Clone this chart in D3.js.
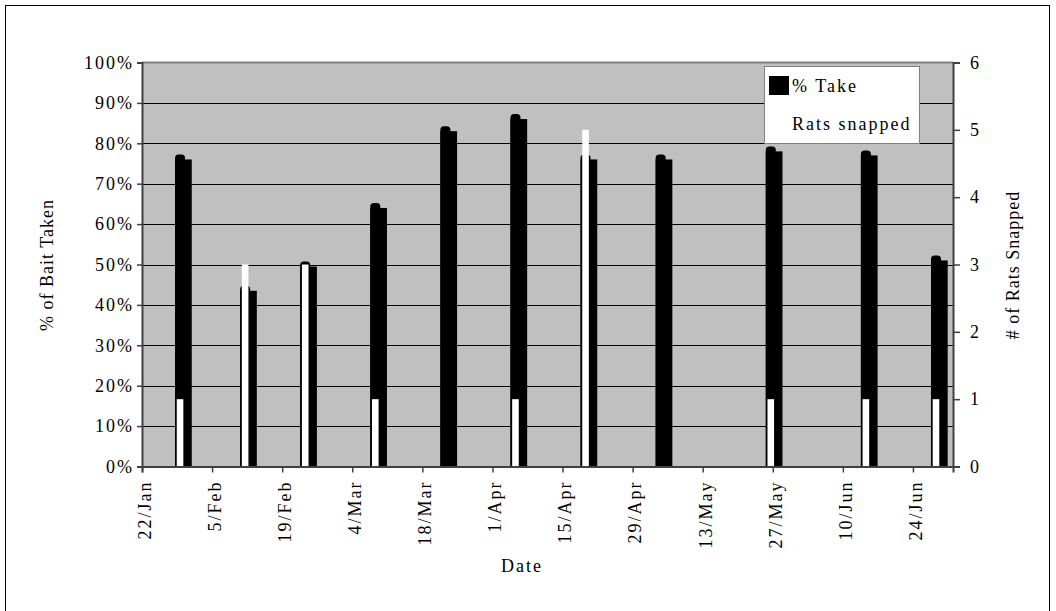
<!DOCTYPE html>
<html>
<head>
<meta charset="utf-8">
<script src="https://cdn.jsdelivr.net/npm/d3@7/dist/d3.min.js"></script>
<style>
  html, body { margin: 0; padding: 0; background: #fff; }
  svg text { font-family: "Liberation Serif", "Times New Roman", serif; fill: #000; }
</style>
</head>
<body>
<svg id="chart" width="1056" height="611"></svg>
<script>
// Sampling dates (2004) and readings
const sampleDates = ["30/Jan", "12/Feb", "24/Feb", "9/Mar", "23/Mar", "6/Apr", "20/Apr", "5/May", "27/May", "15/Jun", "29/Jun"];
const pctTake = [76, 43.5, 49.5, 64, 83, 86, 76, 76, 78, 77, 51];
const ratsSnapped = [1, 3, 3, 1, 0, 1, 5, 0, 1, 1, 1];

// Axis tick labels
const dateTicks = ["22/Jan", "5/Feb", "19/Feb", "4/Mar", "18/Mar", "1/Apr", "15/Apr", "29/Apr", "13/May", "27/May", "10/Jun", "24/Jun"];
const pctTicks = [0, 10, 20, 30, 40, 50, 60, 70, 80, 90, 100];
const ratTicks = [0, 1, 2, 3, 4, 5, 6];

const year = "2004";
const parse = d3.utcParse("%d/%b/%Y");
const toDate = s => parse(s + "/" + year);

const svg = d3.select("#chart");
const plotL = 142, plotR = 953, plotT = 62.5, plotB = 466.5;
const FS = 18;

const x = d3.scaleUtc()
  .domain([toDate("22/Jan"), toDate("2/Jul")])
  .range([plotL, plotR]);
const y = d3.scaleLinear().domain([0, 100]).range([plotB, plotT]);
const yR = d3.scaleLinear().domain([0, 6]).range([plotB, plotT]);

// Outer frame
svg.append("rect")
  .attr("x", 5.5).attr("y", 5.5)
  .attr("width", 1044).attr("height", 640)
  .attr("fill", "none").attr("stroke", "#000").attr("stroke-width", 1);

// Plot area
svg.append("rect")
  .attr("x", plotL).attr("y", plotT)
  .attr("width", plotR - plotL).attr("height", plotB - plotT)
  .attr("fill", "#c0c0c0");

// Gridlines
svg.append("g")
  .selectAll("line")
  .data(pctTicks.filter(d => d > 0 && d < 100))
  .join("line")
  .attr("x1", plotL).attr("x2", plotR)
  .attr("y1", d => Math.round(y(d)) + 0.5)
  .attr("y2", d => Math.round(y(d)) + 0.5)
  .attr("stroke", "#000").attr("stroke-width", 1.2);

// Top border of plot
svg.append("line")
  .attr("x1", plotL).attr("x2", plotR)
  .attr("y1", plotT).attr("y2", plotT)
  .attr("stroke", "#808080").attr("stroke-width", 2);

const rows = sampleDates.map((d, i) => ({
  date: toDate(d), take: pctTake[i], rats: ratsSnapped[i]
}));

// % Take bars: full-width body with a raised, rounded left portion
const bars = svg.append("g");
rows.forEach(r => {
  const cx = x(r.date);
  const yt = y(r.take);
  const x0 = cx - 7, xm = cx + 3, x1 = cx + 9.7;
  bars.append("rect")
    .attr("x", x0).attr("y", yt)
    .attr("width", x1 - x0).attr("height", plotB - yt)
    .attr("fill", "#000");
  const capTop = yt - 5, rr = 3.5;
  bars.append("path")
    .attr("d", `M${x0},${plotB} L${x0},${capTop + rr} Q${x0},${capTop} ${x0 + rr},${capTop}
                L${xm - rr},${capTop} Q${xm},${capTop} ${xm},${capTop + rr} L${xm},${plotB} Z`)
    .attr("fill", "#000");
});

// Rats snapped bars (secondary axis)
svg.append("g")
  .selectAll("rect")
  .data(rows.filter(r => r.rats > 0))
  .join("rect")
  .attr("x", r => x(r.date) - 5.3)
  .attr("y", r => yR(r.rats))
  .attr("width", 6.6)
  .attr("height", r => plotB - yR(r.rats))
  .attr("fill", "#fff");

// Left axis
const yAxis = svg.append("g")
  .attr("transform", `translate(${plotL},0)`)
  .call(d3.axisLeft(y).tickValues(pctTicks).tickFormat(d => d + "%").tickSize(5).tickPadding(3));
// Right axis
const yAxisR = svg.append("g")
  .attr("transform", `translate(${plotR},0)`)
  .call(d3.axisRight(yR).tickValues(ratTicks).tickFormat(d3.format("d")).tickSize(7).tickPadding(10));
// Bottom axis
const xAxis = svg.append("g")
  .attr("transform", `translate(0,${plotB})`)
  .call(d3.axisBottom(x).tickValues(dateTicks.map(toDate))
    .tickFormat((d, i) => dateTicks[i]).tickSize(6));

[yAxis, yAxisR, xAxis].forEach(g => {
  g.select(".domain").attr("stroke", "#404040").attr("stroke-width", 2);
  g.selectAll(".tick line").attr("stroke", "#404040").attr("stroke-width", 1.5);
  g.selectAll("text").attr("font-size", FS).style("font-family", "Liberation Serif, serif")
    .attr("letter-spacing", 2);
});

xAxis.selectAll("text")
  .attr("transform", "rotate(-90)")
  .attr("text-anchor", "end")
  .attr("x", -14)
  .attr("y", 2)
  .attr("dy", "0.35em");

// Axis titles
svg.append("text")
  .attr("transform", "translate(53,265) rotate(-90)")
  .attr("text-anchor", "middle")
  .attr("font-size", FS).attr("letter-spacing", 1)
  .text("% of Bait Taken");
svg.append("text")
  .attr("transform", "translate(1019,265) rotate(-90)")
  .attr("text-anchor", "middle")
  .attr("font-size", FS).attr("letter-spacing", 1)
  .text("# of Rats Snapped");
svg.append("text")
  .attr("x", 522).attr("y", 572)
  .attr("text-anchor", "middle")
  .attr("font-size", FS).attr("letter-spacing", 2)
  .text("Date");

// Legend
const lg = svg.append("g");
lg.append("rect")
  .attr("x", 764.5).attr("y", 66.5).attr("width", 155).attr("height", 77)
  .attr("fill", "#fff").attr("stroke", "#808080").attr("stroke-width", 1);
lg.append("rect")
  .attr("x", 769).attr("y", 76).attr("width", 20).attr("height", 19)
  .attr("fill", "#000");
lg.append("rect")
  .attr("x", 769).attr("y", 114).attr("width", 20).attr("height", 19)
  .attr("fill", "#fff");
lg.append("text").attr("x", 792).attr("y", 92).attr("font-size", FS).attr("letter-spacing", 2).text("% Take");
lg.append("text").attr("x", 792).attr("y", 130).attr("font-size", FS).attr("letter-spacing", 2).text("Rats snapped");
</script>
</body>
</html>
